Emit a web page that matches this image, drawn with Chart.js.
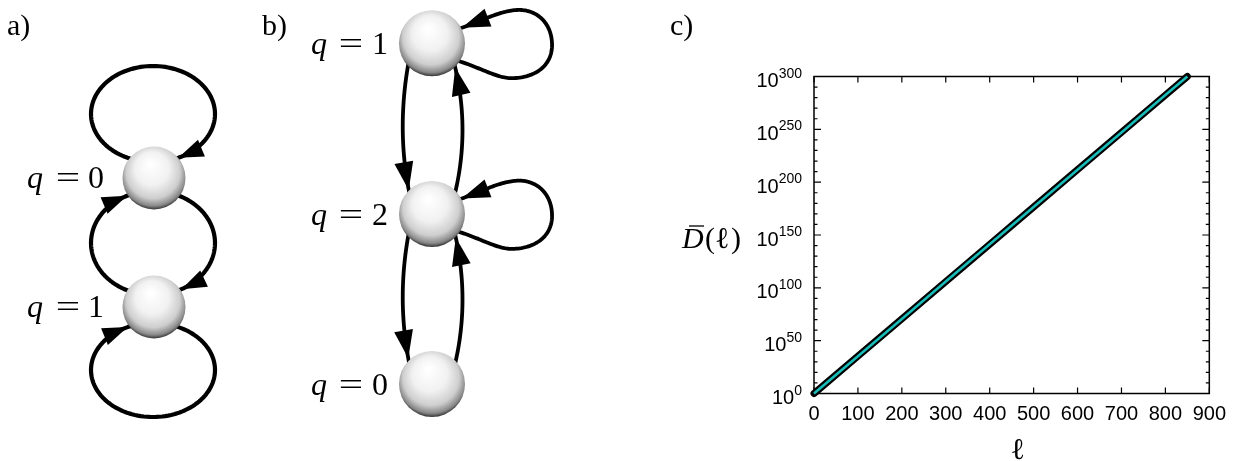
<!DOCTYPE html>
<html>
<head>
<meta charset="utf-8">
<script src="https://cdn.jsdelivr.net/npm/chart.js@4.4.1/dist/chart.umd.min.js"></script>
<style>
  html, body { margin: 0; padding: 0; background: #ffffff; }
  #wrap { width: 1235px; height: 461px; position: relative; }
</style>
</head>
<body>
<div id="wrap"><canvas id="fig"></canvas></div>
<script>
// panel c: D(l) grows exponentially, values kept as log10 D
const ell = [0, 100, 200, 300, 400, 500, 600, 700, 800, 850];
const log10D = [0, 35.3, 70.6, 105.9, 141.2, 176.5, 211.8, 247.1, 282.4, 300];
const yDecades = [0, 50, 100, 150, 200, 250, 300];

// panels a and b: state labels
const statesA = ["0", "1"];
const statesB = ["1", "2", "0"];

const serif = '"Liberation Serif", "DejaVu Serif", serif';
const sans = '"Liberation Sans", Arial, sans-serif';

function sphere(ctx, cx, cy, r) {
  const g = ctx.createRadialGradient(cx - 0.12 * r, cy - 0.45 * r, 0.05 * r, cx, cy - 0.12 * r, 1.12 * r);
  g.addColorStop(0, "#ffffff");
  g.addColorStop(0.45, "#f1f1f1");
  g.addColorStop(0.75, "#cecece");
  g.addColorStop(0.92, "#888888");
  g.addColorStop(1, "#333333");
  ctx.fillStyle = g;
  ctx.beginPath();
  ctx.arc(cx, cy, r, 0, 2 * Math.PI);
  ctx.fill();
}

function ellPts(cx, cy, rx, ry, a0, a1) {
  const pts = [];
  for (let i = 0; i <= 120; i++) {
    const t = (a0 + (a1 - a0) * i / 120) * Math.PI / 180;
    pts.push([cx + rx * Math.cos(t), cy + ry * Math.sin(t)]);
  }
  return pts;
}

function bezPts(segs) {
  // segs: list of [p0, p1, p2, p3] cubic segments
  const pts = [];
  segs.forEach(([p0, p1, p2, p3]) => {
    for (let i = 0; i <= 40; i++) {
      const t = i / 40, u = 1 - t;
      const a = u * u * u, b = 3 * u * u * t, c = 3 * u * t * t, d = t * t * t;
      pts.push([a * p0[0] + b * p1[0] + c * p2[0] + d * p3[0],
                a * p0[1] + b * p1[1] + c * p2[1] + d * p3[1]]);
    }
  });
  return pts;
}

function quadPts(p0, c, p1) {
  const pts = [];
  for (let i = 0; i <= 60; i++) {
    const t = i / 60, u = 1 - t;
    pts.push([u * u * p0[0] + 2 * u * t * c[0] + t * t * p1[0],
              u * u * p0[1] + 2 * u * t * c[1] + t * t * p1[1]]);
  }
  return pts;
}

function strokePts(ctx, pts, lw) {
  ctx.lineWidth = lw;
  ctx.strokeStyle = "#000";
  ctx.lineJoin = "round";
  ctx.beginPath();
  ctx.moveTo(pts[0][0], pts[0][1]);
  for (let i = 1; i < pts.length; i++) ctx.lineTo(pts[i][0], pts[i][1]);
  ctx.stroke();
}

function arrowAt(ctx, pts, node, len, half) {
  let k = pts.length - 1;
  while (k > 3 && Math.hypot(pts[k][0] - node[0], pts[k][1] - node[1]) < node[2]) k--;
  const tip = pts[k], prev = pts[k - 3];
  let dx = tip[0] - prev[0], dy = tip[1] - prev[1];
  const n = Math.hypot(dx, dy);
  dx /= n; dy /= n;
  const bx = tip[0] - dx * len, by = tip[1] - dy * len;
  ctx.fillStyle = "#000";
  ctx.beginPath();
  ctx.moveTo(tip[0], tip[1]);
  ctx.lineTo(bx - dy * half, by + dx * half);
  ctx.lineTo(bx + dy * half, by - dx * half);
  ctx.closePath();
  ctx.fill();
}

function stateLabel(ctx, q, xq, xEq, xNum, base) {
  ctx.fillStyle = "#000";
  ctx.textBaseline = "alphabetic";
  ctx.textAlign = "left";
  ctx.font = "italic 32px " + serif;
  ctx.fillText("q", xq, base);
  ctx.font = "32px " + serif;
  ctx.textAlign = "center";
  ctx.save();
  ctx.translate(xEq, base);
  ctx.scale(1.35, 1);
  ctx.fillText("=", 0, 0);
  ctx.restore();
  ctx.fillText(q, xNum, base);
}

function drawPanelA(ctx) {
  const n0 = [154, 178, 31.5], n1 = [154, 307, 31.5];
  const lw = 4.2, len = 25, half = 9;
  const top = ellPts(153, 114, 62, 48, 100, 440);
  const right = ellPts(153, 243, 62, 52, -80, 80);
  const left = ellPts(153, 243, 62, 52, 100, 260);
  const bottom = ellPts(153, 370, 62, 47, -80, 260);
  [top, right, left, bottom].forEach(p => strokePts(ctx, p, lw));
  sphere(ctx, n0[0], n0[1], n0[2]);
  sphere(ctx, n1[0], n1[1], n1[2]);
  arrowAt(ctx, top, n0, len, half);
  arrowAt(ctx, right, n1, len, half);
  arrowAt(ctx, left, n0, len, half);
  arrowAt(ctx, bottom, n1, len, half);
  stateLabel(ctx, statesA[0], 27, 68, 96, n0[1] + 10);
  stateLabel(ctx, statesA[1], 27, 68, 96, n1[1] + 10);
  ctx.font = "30px " + serif;
  ctx.textAlign = "left";
  ctx.fillText("a)", 7, 35);
}

function drawPanelB(ctx) {
  const n1 = [432, 43.3, 33], n2 = [432, 214, 33], n0 = [432, 384, 33];
  const lw = 3.8, len = 28, half = 9.5;
  const e12 = quadPts([411, 50], [394, 130], [412, 205]);
  const e21 = quadPts([452, 205], [473, 130], [452, 55]);
  const e20 = quadPts([411, 222], [394, 300], [412, 376]);
  const e02 = quadPts([452, 376], [473, 300], [452, 222]);
  const loop = (dy) => bezPts([
    [[448, 58 + dy], [480, 66 + dy], [497, 80 + dy], [516, 78 + dy]],
    [[516, 78 + dy], [540, 76 + dy], [553, 62 + dy], [552, 43 + dy]],
    [[552, 43 + dy], [551, 22 + dy], [536, 9 + dy], [517, 10 + dy]],
    [[517, 10 + dy], [498, 11 + dy], [480, 22 + dy], [445, 34 + dy]]
  ]);
  const l1 = loop(0), l2 = loop(170.7);
  [e12, e21, e20, e02, l1, l2].forEach(p => strokePts(ctx, p, lw));
  sphere(ctx, n1[0], n1[1], n1[2]);
  sphere(ctx, n2[0], n2[1], n2[2]);
  sphere(ctx, n0[0], n0[1], n0[2]);
  arrowAt(ctx, e12, n2, len, half);
  arrowAt(ctx, e21, n1, len, half);
  arrowAt(ctx, e20, n0, len, half);
  arrowAt(ctx, e02, n2, len, half);
  arrowAt(ctx, l1, n1, len, half);
  arrowAt(ctx, l2, n2, len, half);
  stateLabel(ctx, statesB[0], 311, 351, 380, n1[1] + 11);
  stateLabel(ctx, statesB[1], 311, 351, 380, n2[1] + 11);
  stateLabel(ctx, statesB[2], 311, 351, 380, n0[1] + 11);
  ctx.font = "30px " + serif;
  ctx.textAlign = "left";
  ctx.fillText("b)", 262, 35);
}

const framePlugin = {
  id: "frameAndDiagrams",
  beforeDatasetsDraw(chart) {
    const { ctx, chartArea: a, scales } = chart;
    ctx.save();
    ctx.strokeStyle = "#000";
    ctx.lineWidth = 1.5;
    ctx.strokeRect(a.left, a.top, a.right - a.left, a.bottom - a.top);
    ctx.lineWidth = 1.2;
    ctx.beginPath();
    scales.x.ticks.forEach(t => {
      const px = scales.x.getPixelForValue(t.value);
      ctx.moveTo(px, a.bottom); ctx.lineTo(px, a.bottom - 6);
      ctx.moveTo(px, a.top); ctx.lineTo(px, a.top + 6);
    });
    scales.y.ticks.forEach(t => {
      const py = scales.y.getPixelForValue(t.value);
      const l = t.value % 50 === 0 ? 7 : 3.5;
      ctx.moveTo(a.left, py); ctx.lineTo(a.left + l, py);
      ctx.moveTo(a.right, py); ctx.lineTo(a.right - l, py);
    });
    ctx.stroke();
    ctx.restore();
  },
  afterDraw(chart) {
    const { ctx, chartArea: a, scales } = chart;
    ctx.save();
    // y tick labels 10^n
    ctx.fillStyle = "#000";
    ctx.textBaseline = "alphabetic";
    ctx.textAlign = "left";
    yDecades.forEach(v => {
      const py = scales.y.getPixelForValue(v);
      ctx.font = "14px " + sans;
      const sup = String(v);
      const ws = ctx.measureText(sup).width;
      ctx.font = "20px " + sans;
      const wb = ctx.measureText("10").width;
      const right = a.left - 12;
      ctx.fillText("10", right - ws - wb, py + 10.5);
      ctx.font = "14px " + sans;
      ctx.fillText(sup, right - ws, py + 1);
    });
    // axis titles
    ctx.font = "italic 30px " + serif;
    ctx.fillText("D", 682, 248);
    ctx.lineWidth = 1.3;
    ctx.beginPath();
    ctx.moveTo(689, 226); ctx.lineTo(704, 226);
    ctx.stroke();
    ctx.font = "30px " + serif;
    ctx.fillText("(", 705, 248);
    ctx.fillText("\u2113", 715, 248);
    ctx.fillText(")", 731, 248);
    ctx.textAlign = "center";
    ctx.font = "30px " + serif;
    ctx.fillText("\u2113", (a.left + a.right) / 2 + 6, 459);
    ctx.textAlign = "left";
    ctx.font = "30px " + serif;
    ctx.fillText("c)", 670, 35);
    drawPanelA(ctx);
    drawPanelB(ctx);
    ctx.restore();
  }
};

const points = ell.map((x, i) => ({ x: x, y: log10D[i] }));

new Chart(document.getElementById("fig"), {
  type: "line",
  data: {
    datasets: [
      {
        data: points,
        borderColor: "#18bcb8",
        borderWidth: 2.6,
        pointRadius: 0,
        clip: false,
        order: 1
      },
      {
        data: points,
        borderColor: "#000000",
        borderWidth: 7,
        borderCapStyle: "round",
        pointRadius: 0,
        clip: false,
        order: 2
      }
    ]
  },
  options: {
    responsive: true,
    maintainAspectRatio: false,
    animation: false,
    layout: { padding: { top: 76.5, right: 25, bottom: 0, left: 0 } },
    plugins: { legend: { display: false }, tooltip: { enabled: false } },
    scales: {
      x: {
        type: "linear",
        min: 0,
        max: 900,
        ticks: { stepSize: 100, color: "#000", padding: 9, font: { family: sans, size: 20 } },
        grid: { display: false, drawTicks: false },
        border: { display: false },
        afterFit: (s) => { s.height = 67.5; }
      },
      y: {
        type: "linear",
        min: 0,
        max: 300,
        ticks: { stepSize: 10, display: false },
        grid: { display: false, drawTicks: false },
        border: { display: false },
        afterFit: (s) => { s.width = 814; }
      }
    }
  },
  plugins: [framePlugin]
});
</script>
</body>
</html>
